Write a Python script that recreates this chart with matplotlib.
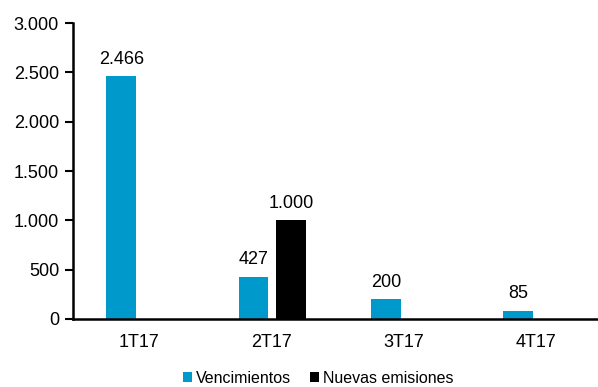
import numpy as np
import matplotlib.pyplot as plt
from matplotlib.ticker import FuncFormatter

categorias = ["1T17", "2T17", "3T17", "4T17"]
vencimientos = [2466, 427, 200, 85]
nuevas_emisiones = [0, 1000, 0, 0]
etiquetas_nuevas = ["", "1.000", "", ""]

azul = "#0099CC"

plt.rcParams['font.family'] = ['Liberation Sans', 'DejaVu Sans']

fig = plt.figure(figsize=(5.98, 3.87), dpi=100)
ax = fig.add_axes([0.122, 0.176, 0.885, 0.764])

x = np.arange(len(categorias))
ancho = 0.225
b1 = ax.bar(x - 0.135, vencimientos, ancho, color=azul, label="Vencimientos")
b2 = ax.bar(x + 0.15, nuevas_emisiones, ancho, color="black", label="Nuevas emisiones")

fmt = lambda v: f"{v:,.0f}".replace(",", ".")
ax.bar_label(b1, labels=[fmt(v) for v in vencimientos], padding=6, fontsize=13)
ax.bar_label(b2, labels=etiquetas_nuevas, padding=6, fontsize=13)

ax.set_ylim(0, 3000)
ax.set_xlim(-0.5, 3.5)
ax.set_yticks(range(0, 3001, 500))
ax.yaxis.set_major_formatter(FuncFormatter(lambda v, p: fmt(v)))
ax.set_xticks(x)
ax.set_xticklabels(categorias)

for s in ["top", "right"]:
    ax.spines[s].set_visible(False)
for s in ["left", "bottom"]:
    ax.spines[s].set_linewidth(1.8)

ax.tick_params(axis="y", length=6, width=1.5, labelsize=13, pad=4)
ax.tick_params(axis="x", length=0, labelsize=13, pad=11)

ax.legend(loc="center", bbox_to_anchor=(0.463, -0.2), ncol=2, frameon=False,
          fontsize=11.5, handlelength=0.6, handleheight=0.6, handletextpad=0.2,
          columnspacing=1.2, borderpad=0)

fig.savefig("out.png", dpi=100)
